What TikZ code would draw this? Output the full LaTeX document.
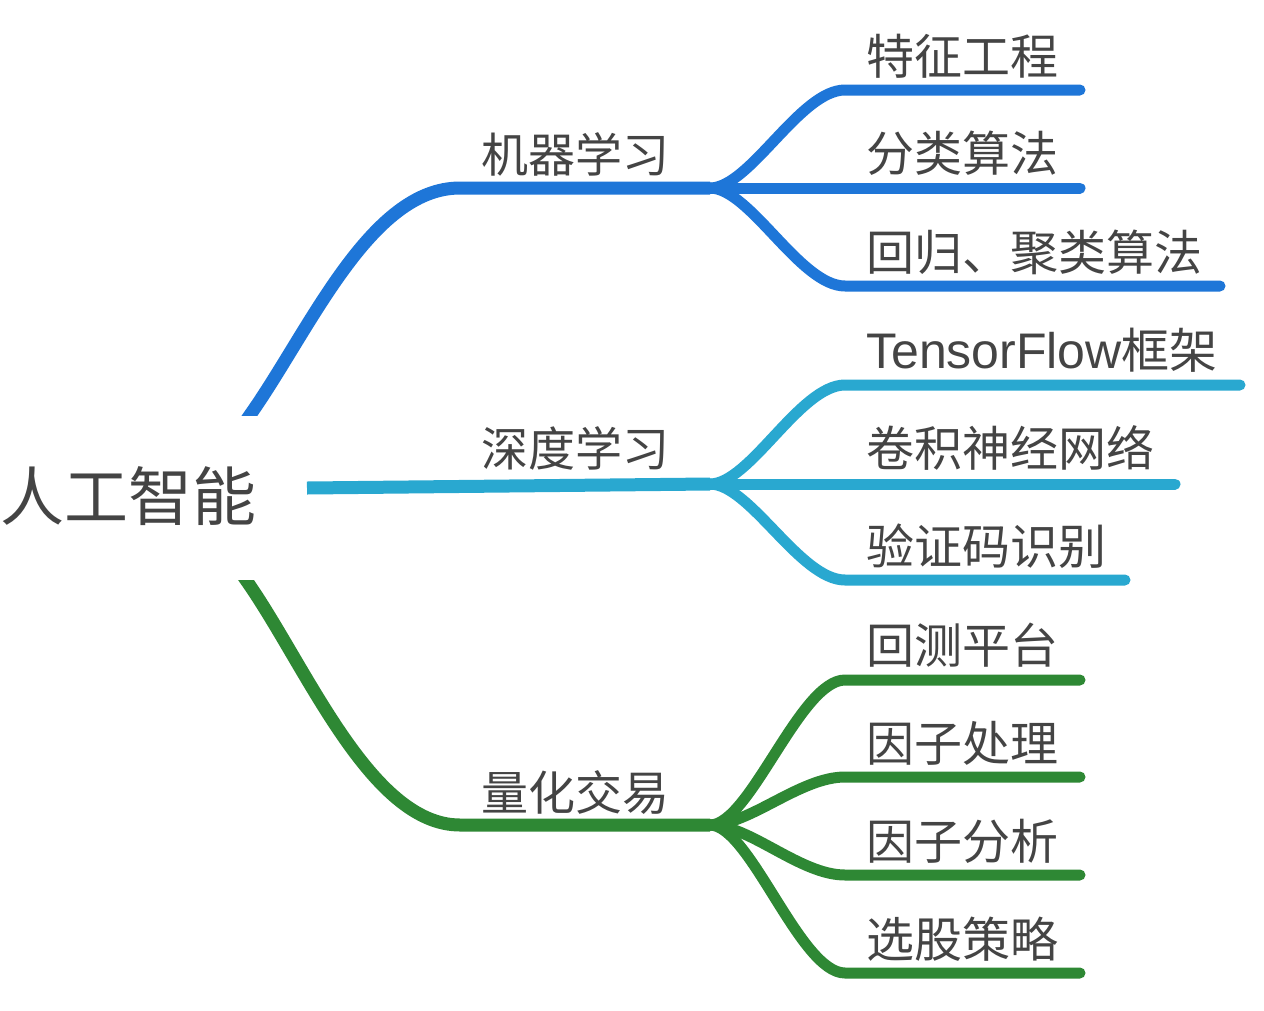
\documentclass[tikz,border=0pt]{standalone}
\usepackage{fontspec}
\setmainfont{Noto Sans CJK SC}
\newfontfamily\latinfont{Liberation Sans}
\definecolor{mlblue}{RGB}{30,118,216}
\definecolor{dlcyan}{RGB}{41,168,208}
\definecolor{qtgreen}{RGB}{46,136,52}
\definecolor{txtgray}{RGB}{68,68,68}
\tikzset{
  rootlbl/.style={font=\fontsize{64}{70}\selectfont, text=txtgray, inner sep=0pt},
  midlbl/.style={font=\fontsize{47}{52}\selectfont, text=txtgray, inner sep=0pt},
  leaflbl/.style={font=\fontsize{48}{52}\selectfont, text=txtgray, inner sep=0pt, anchor=west},
  mainbr/.style={line width=13pt, line cap=butt},
  subbr/.style={line width=11pt, line cap=round, line join=round},
}
\begin{document}
\begin{tikzpicture}[x=1pt,y=-1pt]
\useasboundingbox (0,0) rectangle (1264,1010);
\fill[white] (0,0) rectangle (1264,1010);

% labels
\node[rootlbl] (root) at (129,496) {人工智能};
\node[midlbl] (ml) at (575,154) {机器学习};
\node[midlbl] (dl) at (575,448) {深度学习};
\node[midlbl] (qt) at (575,793) {量化交易};

\node[leaflbl] (ml1) at (866,56) {特征工程};
\node[leaflbl] (ml2) at (866,153) {分类算法};
\node[leaflbl] (ml3) at (866,252) {回归、聚类算法};
\node[leaflbl] (dl1) at (866,350) {{\latinfont\fontsize{50}{54}\selectfont TensorFlow}框架};
\node[leaflbl] (dl2) at (866,448) {卷积神经网络};
\node[leaflbl] (dl3) at (866,546) {验证码识别};
\node[leaflbl] (qt1) at (866,645) {回测平台};
\node[leaflbl] (qt2) at (866,743) {因子处理};
\node[leaflbl] (qt3) at (866,841) {因子分析};
\node[leaflbl] (qt4) at (866,939) {选股策略};

% coordinates
\coordinate (mlS0) at (241,428);
\coordinate (mlS) at (250,415);
\coordinate (mlH) at (460,188);
\coordinate (mlJ) at (710,188);
\coordinate (dlS) at (307,488);
\coordinate (dlJ) at (710,484);
\coordinate (qtS0) at (237,567);
\coordinate (qtS) at (246,580);
\coordinate (qtH) at (460,825);
\coordinate (qtJ) at (710,825);

\coordinate (ml1a) at (845,90);   \coordinate (ml1b) at (1080,90);
\coordinate (ml2b) at (1080,188);
\coordinate (ml3a) at (845,286);  \coordinate (ml3b) at (1220,286);
\coordinate (dl1a) at (845,385);  \coordinate (dl1b) at (1240,385);
\coordinate (dl2b) at (1175,484);
\coordinate (dl3a) at (845,580);  \coordinate (dl3b) at (1125,580);
\coordinate (qt1a) at (845,680);  \coordinate (qt1b) at (1080,680);
\coordinate (qt2a) at (845,777);  \coordinate (qt2b) at (1080,777);
\coordinate (qt3a) at (845,875);  \coordinate (qt3b) at (1080,875);
\coordinate (qt4a) at (845,973);  \coordinate (qt4b) at (1080,973);

% main branches
\begin{scope}
  \clip (0,0) rectangle (1264,415);
  \draw[mainbr, mlblue] (mlS0) -- (mlS) .. controls (310,330) and (370,188) .. (mlH) -- (mlJ);
\end{scope}
\draw[mainbr, dlcyan] (dlS) -- (dlJ);
\begin{scope}
  \clip (0,580) rectangle (1264,1010);
  \draw[mainbr, qtgreen] (qtS0) -- (qtS) .. controls (306,665) and (370,825) .. (qtH) -- (qtJ);
\end{scope}

% sub branches
\draw[subbr, mlblue] (mlJ) .. controls (750,188) and (800,90) .. (ml1a) -- (ml1b);
\draw[subbr, mlblue] (mlJ) -- (ml2b);
\draw[subbr, mlblue] (mlJ) .. controls (750,188) and (800,286) .. (ml3a) -- (ml3b);

\draw[subbr, dlcyan] (dlJ) .. controls (750,484) and (800,385) .. (dl1a) -- (dl1b);
\draw[subbr, dlcyan] (dlJ) -- (dl2b);
\draw[subbr, dlcyan] (dlJ) .. controls (750,484) and (800,580) .. (dl3a) -- (dl3b);

\draw[subbr, qtgreen] (qtJ) .. controls (750,825) and (800,680) .. (qt1a) -- (qt1b);
\draw[subbr, qtgreen] (qtJ) .. controls (750,825) and (800,777) .. (qt2a) -- (qt2b);
\draw[subbr, qtgreen] (qtJ) .. controls (750,825) and (800,875) .. (qt3a) -- (qt3b);
\draw[subbr, qtgreen] (qtJ) .. controls (750,825) and (800,973) .. (qt4a) -- (qt4b);
\end{tikzpicture}
\end{document}
